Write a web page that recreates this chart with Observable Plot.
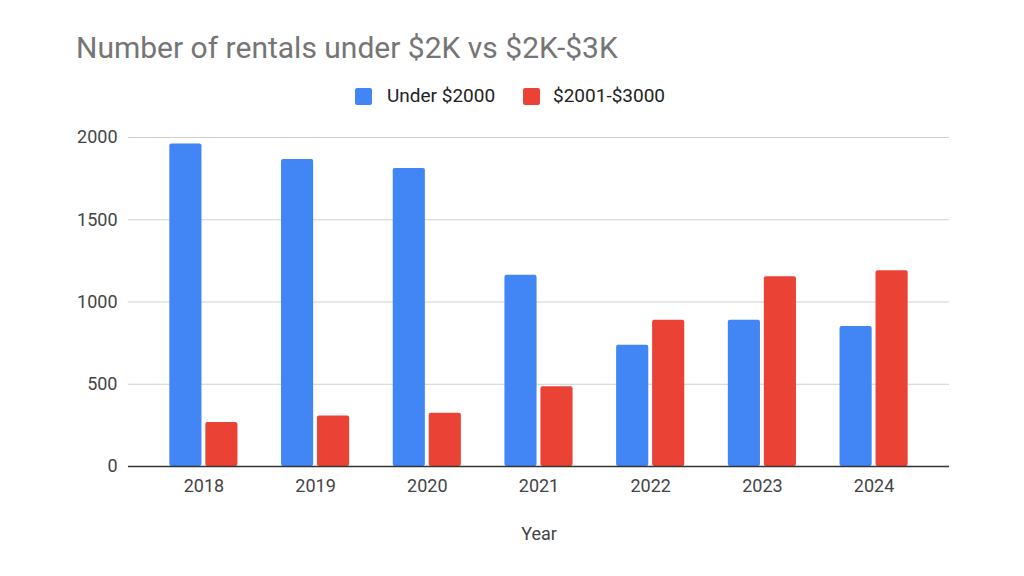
<!DOCTYPE html>
<html>
<head>
<meta charset="utf-8">
<script src="https://cdn.jsdelivr.net/npm/d3@7"></script>
<script src="https://cdn.jsdelivr.net/npm/@observablehq/plot@0.6"></script>
<style>
  html, body { margin: 0; padding: 0; background: #fff; }
  #wrap { position: relative; width: 1024px; height: 576px; font-family: Roboto, "Liberation Sans", sans-serif; overflow: hidden; }
  #header { position: relative; width: 1024px; height: 120px; }
  #title { position: absolute; left: 76px; top: 32.8px; font-size: 30px; line-height: 30px; color: #757575; white-space: nowrap; }
  .sw { position: absolute; width: 17px; height: 17px; border-radius: 2px; top: 87.5px; }
  .lt { position: absolute; font-size: 19px; line-height: 19px; top: 86px; color: #222; white-space: nowrap; }
  #chart svg { display: block; }
</style>
</head>
<body>
<div id="wrap">
  <div id="header">
    <div id="title"></div>
    <div id="legend"></div>
  </div>
  <div id="chart"></div>
</div>
<script>
const titleText = "Number of rentals under $2K vs $2K-$3K";
const years = ["2018", "2019", "2020", "2021", "2022", "2023", "2024"];
const seriesNames = ["Under $2000", "$2001-$3000"];
const seriesColors = ["#4285F4", "#EA4335"];
const underValues = [1960, 1867, 1812, 1162, 737, 889, 851];
const midValues = [267, 307, 323, 485, 889, 1154, 1190];
const yTicks = [0, 500, 1000, 1500, 2000];
const xLabel = "Year";

document.getElementById("title").textContent = titleText;

// legend
const legend = document.getElementById("legend");
const legendPos = [{sw: 355, tx: 387}, {sw: 523, tx: 553}];
seriesNames.forEach((name, i) => {
  const s = document.createElement("div");
  s.className = "sw";
  s.style.left = legendPos[i].sw + "px";
  s.style.background = seriesColors[i];
  legend.appendChild(s);
  const t = document.createElement("div");
  t.className = "lt";
  t.style.left = legendPos[i].tx + "px";
  t.textContent = name;
  legend.appendChild(t);
});

const data = years.map((year, i) => ({year, under: underValues[i], mid: midValues[i]}));

const plot = Plot.plot({
  width: 1024,
  height: 456,
  marginLeft: 128,
  marginRight: 75,
  marginTop: 17,
  marginBottom: 110,
  style: {fontFamily: "Roboto, 'Liberation Sans', sans-serif", fontSize: "18px", color: "#444", background: "#fff"},
  x: {domain: years, paddingInner: 0.39, paddingOuter: 0.37, round: false, label: null},
  y: {domain: [0, 2000], label: null},
  marks: [
    Plot.gridY(yTicks, {stroke: "#d0d0d0", strokeOpacity: 1, strokeWidth: 1}),
    Plot.barY(data, {x: "year", y: "under", fill: seriesColors[0], insetRight: 36, rx: 2}),
    Plot.barY(data, {x: "year", y: "mid", fill: seriesColors[1], insetLeft: 36, rx: 2}),
    Plot.ruleY([0], {stroke: "#333", strokeWidth: 1.5}),
    Plot.axisY({ticks: yTicks, tickFormat: d => String(d), tickSize: 0, tickPadding: 11, label: null, fill: "#444"}),
    Plot.axisX({tickSize: 0, tickPadding: 13, label: null, fill: "#444"}),
    Plot.text([xLabel], {frameAnchor: "bottom", dy: 68, lineAnchor: "middle", fill: "#444", fontSize: 18})
  ]
});
document.getElementById("chart").appendChild(plot);
</script>
</body>
</html>
